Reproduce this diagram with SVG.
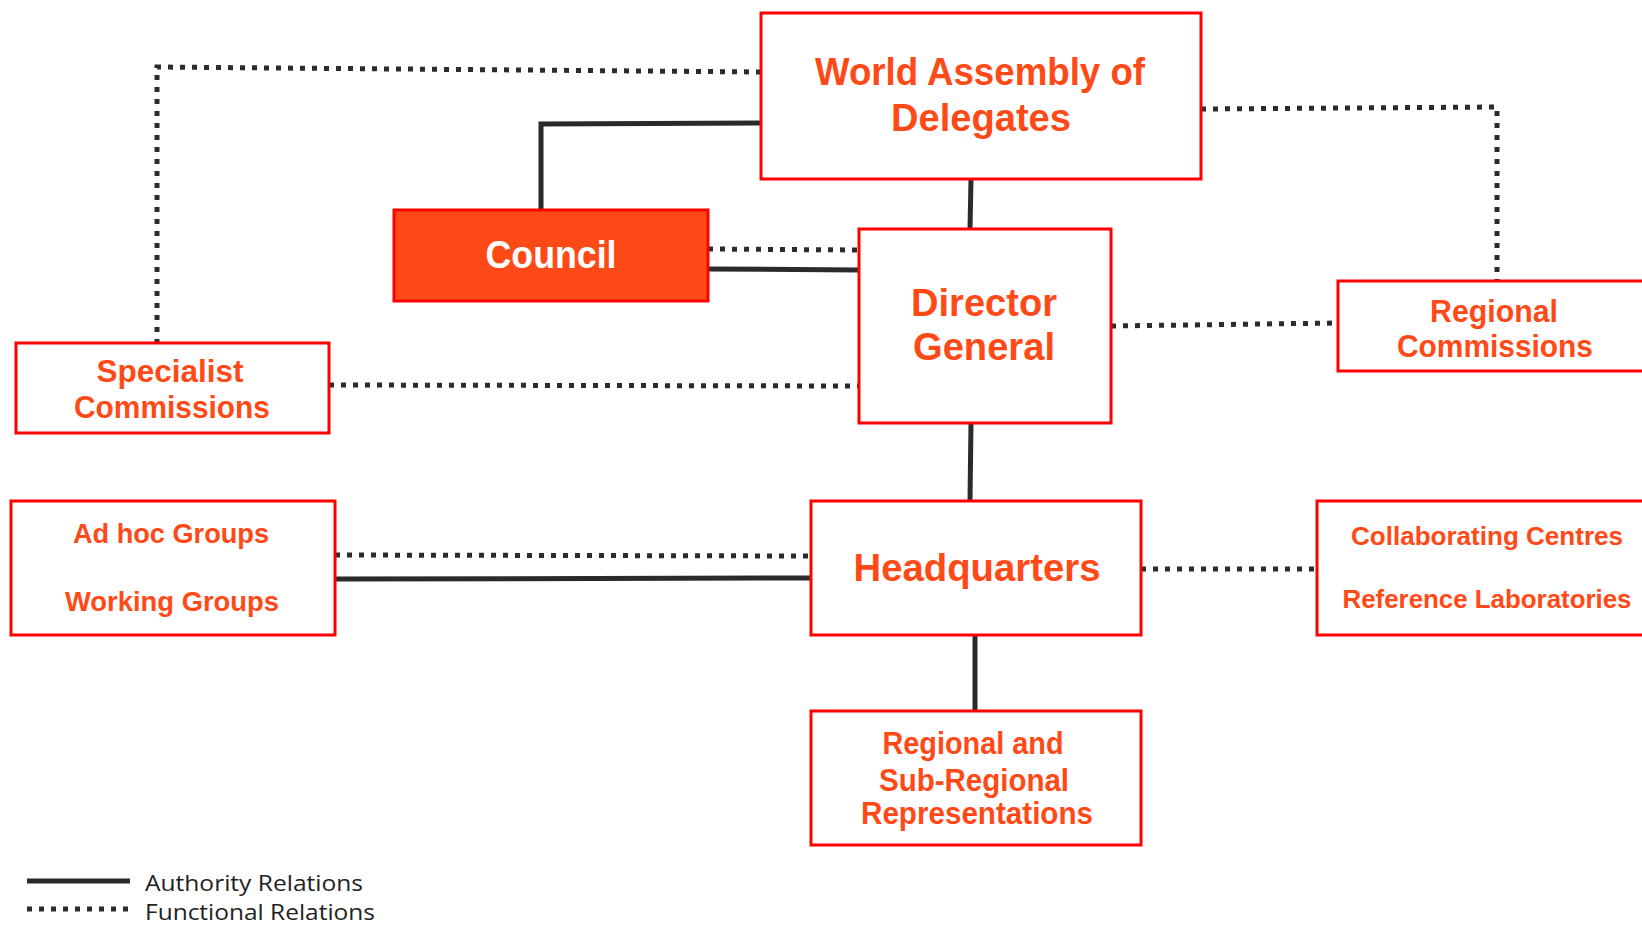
<svg xmlns="http://www.w3.org/2000/svg" width="1642" height="930" viewBox="0 0 1642 930">
<style>
.box{fill:#ffffff;stroke:#ff0000;stroke-width:3}
.council{fill:#ff4a17;stroke:#ff0000;stroke-width:3}
.t{font-family:"Liberation Sans",Arial,sans-serif;font-weight:bold;fill:#ff4a17;text-anchor:middle}
.big{font-size:38px}
.mid{font-size:31px}
.sm{font-size:27px}
.white{fill:#ffffff}
.auth{fill:none;stroke:#2b2b2b;stroke-width:5}
.func{fill:none;stroke:#2b2b2b;stroke-width:5;stroke-dasharray:5 7}
.leg{font-family:"Open Sans","Liberation Sans",sans-serif;font-size:21px;fill:#222222}
</style>
<rect width="1642" height="930" fill="#ffffff"/>
<g id="connectors">
<path class="func" d="M761,72 L157,67 L157,343"/>
<path class="func" d="M1201,109 L1497,107 L1497,281"/>
<path class="func" d="M708,249 L859,250"/>
<path class="func" d="M1111,326 L1338,323"/>
<path class="func" d="M329,385 L859,386"/>
<path class="func" d="M335,555 L811,556"/>
<path class="func" d="M1141,569 L1317,569"/>
<path class="auth" d="M761,123 L541,124 L541,212"/>
<path class="auth" d="M708,269 L859,270"/>
<path class="auth" d="M971,179 L970,229"/>
<path class="auth" d="M971,423 L970,501"/>
<path class="auth" d="M335,579 L811,578"/>
<path class="auth" d="M975,635 L975,711"/>
</g>
<g id="world-assembly">
<rect class="box" x="761" y="13" width="440" height="166"/>
<text class="t big" x="980" y="85" textLength="330" lengthAdjust="spacingAndGlyphs">World Assembly of</text>
<text class="t big" x="981" y="131" textLength="180" lengthAdjust="spacingAndGlyphs">Delegates</text>
</g>
<g id="council">
<rect class="council" x="394" y="210" width="314" height="91"/>
<text class="t big white" x="551" y="268" textLength="131" lengthAdjust="spacingAndGlyphs">Council</text>
</g>
<g id="director-general">
<rect class="box" x="859" y="229" width="252" height="194"/>
<text class="t big" x="984" y="316" textLength="146" lengthAdjust="spacingAndGlyphs">Director</text>
<text class="t big" x="984" y="360" textLength="142" lengthAdjust="spacingAndGlyphs">General</text>
</g>
<g id="specialist-commissions">
<rect class="box" x="16" y="343" width="313" height="90"/>
<text class="t mid" x="170" y="382" textLength="147" lengthAdjust="spacingAndGlyphs">Specialist</text>
<text class="t mid" x="172" y="418" textLength="196" lengthAdjust="spacingAndGlyphs">Commissions</text>
</g>
<g id="regional-commissions">
<rect class="box" x="1338" y="281" width="320" height="90"/>
<text class="t mid" x="1494" y="322" textLength="128" lengthAdjust="spacingAndGlyphs">Regional</text>
<text class="t mid" x="1495" y="357" textLength="196" lengthAdjust="spacingAndGlyphs">Commissions</text>
</g>
<g id="adhoc-working-groups">
<rect class="box" x="11" y="501" width="324" height="134"/>
<text class="t sm" x="171" y="543" textLength="196" lengthAdjust="spacingAndGlyphs">Ad hoc Groups</text>
<text class="t sm" x="172" y="611" textLength="214" lengthAdjust="spacingAndGlyphs">Working Groups</text>
</g>
<g id="headquarters">
<rect class="box" x="811" y="501" width="330" height="134"/>
<text class="t big" x="977" y="581" textLength="247" lengthAdjust="spacingAndGlyphs">Headquarters</text>
</g>
<g id="collaborating-centres">
<rect class="box" x="1317" y="501" width="340" height="134"/>
<text class="t" style="font-size:26px" x="1487" y="545" textLength="272" lengthAdjust="spacingAndGlyphs">Collaborating  Centres</text>
<text class="t" style="font-size:26px" x="1487" y="608" textLength="289" lengthAdjust="spacingAndGlyphs">Reference  Laboratories</text>
</g>
<g id="regional-representations">
<rect class="box" x="811" y="711" width="330" height="134"/>
<text class="t mid" x="973" y="754" textLength="181" lengthAdjust="spacingAndGlyphs">Regional and</text>
<text class="t mid" x="974" y="791" textLength="190" lengthAdjust="spacingAndGlyphs">Sub-Regional</text>
<text class="t mid" x="977" y="824" textLength="232" lengthAdjust="spacingAndGlyphs">Representations</text>
</g>
<g id="legend">
<line class="auth" x1="27" y1="881" x2="130" y2="881"/>
<line class="func" x1="27" y1="909" x2="130" y2="909"/>
<text class="leg" x="145" y="891" textLength="218" lengthAdjust="spacingAndGlyphs">Authority Relations</text>
<text class="leg" x="145" y="920" textLength="230" lengthAdjust="spacingAndGlyphs">Functional Relations</text>
</g>
</svg>
